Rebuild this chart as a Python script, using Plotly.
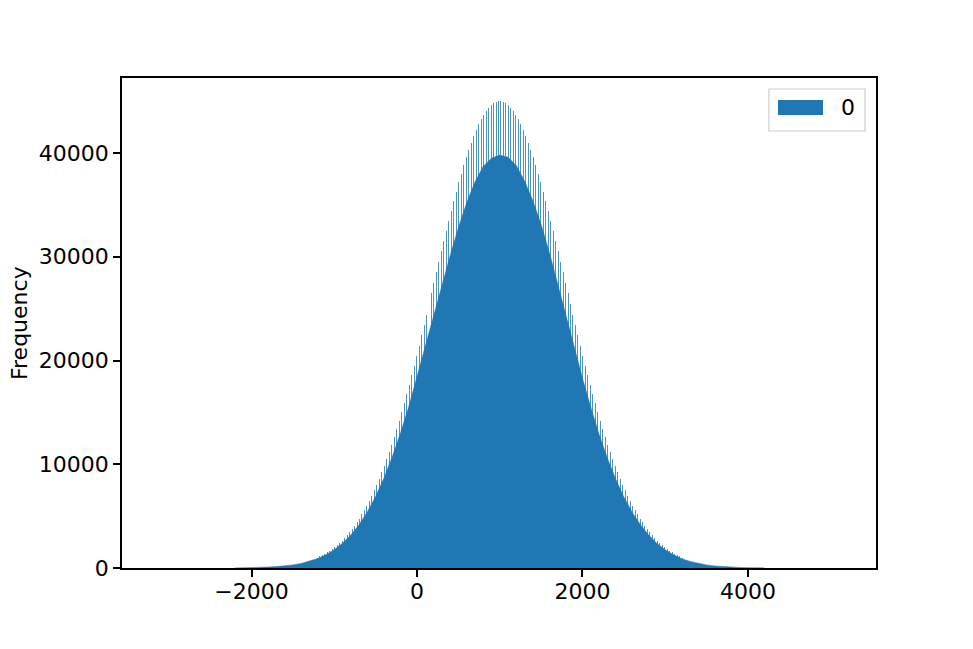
import plotly.graph_objects as go

# envelope of the histogram (the "normal" bins), read every 100 units
env_x = list(range(-2200, 4201, 100))
env_y = [12, 20, 35, 56, 88, 135, 200, 300, 444, 640,
         910, 1280, 1760, 2380, 3180, 4180, 5410, 6900, 8650, 10690,
         12990, 15540, 18500, 21300, 24300, 27300, 30100, 32800, 35200, 37200,
         38700, 39500, 39800, 39600, 38800, 37300, 35400, 33100, 30400, 27400,
         24300, 21200, 18300, 15500, 12900, 10600, 8600, 6850, 5380, 4160,
         3170, 2370, 1750, 1270, 900, 635, 440, 300, 200, 135,
         88, 56, 35, 20, 12]

# taller aliasing spikes on top of the envelope, every ~30 units
spike_left = [1010, 1120, 1240, 1370, 1510, 1660, 1830, 2010, 2200, 2410,
              2640, 2890, 3150, 3430, 3740, 4060, 4400, 4770, 5160, 5570,
              6010, 6480, 6970, 7490, 8040, 8610, 9210, 9840, 10500, 11190,
              11900, 12640, 13410, 14210, 15030, 15880, 16750, 17650, 18570, 19510,
              20470, 21440, 22430, 23420, 24430, 25440, 26460, 27470, 28490, 29510,
              30530, 31530, 32520, 33490, 34440, 35380, 36280, 37160, 38010, 38820,
              39590, 40320, 41000, 41640, 42230, 42770, 43250, 43680, 44050, 44360,
              44610, 44800, 44930, 44990]
spike_right = [44990, 44930, 44800, 44610, 44360, 44050, 43680, 43250, 42770, 42230,
               41640, 41000, 40320, 39590, 38820, 38010, 37160, 36280, 35380, 34440,
               33490, 32520, 31530, 30530, 29510, 28490, 27470, 26460, 25440, 24430,
               23420, 22430, 21440, 20470, 19510, 18570, 17650, 16750, 15880, 15030,
               14210, 13410, 12640, 11900, 11190, 10500, 9840, 9210, 8610, 8040,
               7490, 6970, 6480, 6010, 5570, 5160, 4770, 4400, 4060, 3740,
               3430, 3150, 2890, 2640, 2410, 2200, 2010, 1830, 1660, 1510,
               1370, 1240, 1120, 1010]
spike_y = spike_left + spike_right
spike_x = list(range(-1205, 3206, 30))[:len(spike_y)]

x_ticks = [-2000, 0, 2000, 4000]
x_labels = ["\u22122000", "0", "2000", "4000"]
y_ticks = [0, 10000, 20000, 30000, 40000]
y_labels = ["0", "10000", "20000", "30000", "40000"]

blue = "#1f77b4"
font = dict(family="DejaVu Sans", size=22, color="black")

fig = go.Figure()
fig.add_trace(go.Bar(x=spike_x, y=spike_y, width=12,
                     marker=dict(color="rgba(31,119,180,0.8)", line=dict(width=0)),
                     showlegend=False, hoverinfo="skip"))
fig.add_trace(go.Scatter(x=env_x, y=env_y, mode="lines", fill="tozeroy",
                         fillcolor=blue, line=dict(color=blue, width=0.5),
                         showlegend=False, name="0"))

fig.update_xaxes(range=[-3565, 5547], tickvals=x_ticks, ticktext=x_labels,
                 ticks="outside", ticklen=7, tickwidth=1.5, tickcolor="black",
                 ticklabelstandoff=-4,
                 showline=True, mirror=True, linecolor="black", linewidth=1.6,
                 showgrid=False, zeroline=False, tickfont=font)
fig.update_yaxes(range=[0, 47229], tickvals=y_ticks, ticktext=y_labels,
                 ticks="outside", ticklen=7, tickwidth=1.5, tickcolor="black",
                 showline=True, mirror=True, linecolor="black", linewidth=1.6,
                 showgrid=False, zeroline=False, tickfont=font)

# matplotlib-style legend box in the upper right
fig.add_shape(type="rect", xref="paper", yref="paper", x0=0.858, x1=0.9854,
              y0=0.8918, y1=0.9776, line=dict(color="#cccccc", width=1.2),
              fillcolor="rgba(255,255,255,0.8)")
fig.add_shape(type="rect", xref="paper", yref="paper", x0=0.870, x1=0.9297,
              y0=0.9245, y1=0.955, line=dict(width=0), fillcolor=blue)
fig.add_annotation(text="0", xref="paper", yref="paper", x=0.963, y=0.9388,
                   showarrow=False, font=font, xanchor="center", yanchor="middle")
fig.add_annotation(text="Frequency", xref="paper", yref="paper", x=-0.1366, y=0.5,
                   textangle=-90, showarrow=False, font=font,
                   xanchor="center", yanchor="middle")

fig.update_layout(width=973, height=649, plot_bgcolor="white", paper_bgcolor="white",
                  margin=dict(l=114, r=105, t=70, b=89), bargap=0, barmode="overlay")
fig.write_html("out.html")
